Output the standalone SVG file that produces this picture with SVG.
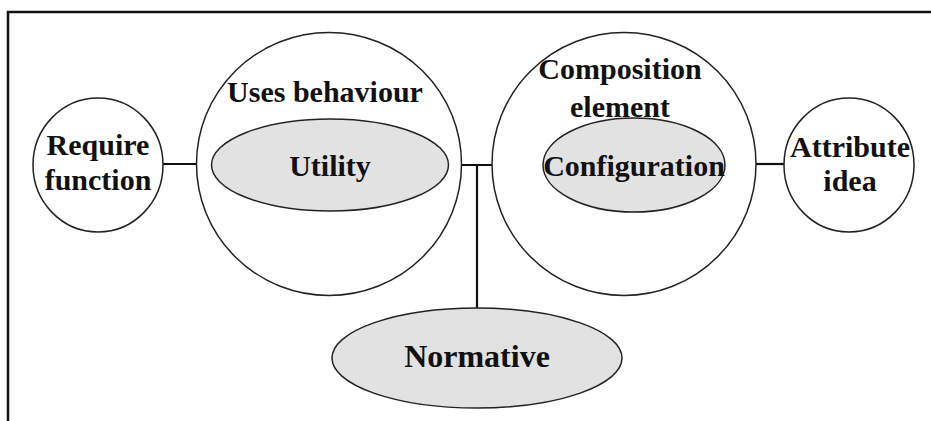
<svg xmlns="http://www.w3.org/2000/svg" width="931" height="421" viewBox="0 0 931 421">
<style>
.o{fill:#fff;stroke:#222;stroke-width:1.5}
.g{fill:#e2e2e2;stroke:#222;stroke-width:1.5}
.c{stroke:#111;stroke-width:2.2;fill:none}
text{font-family:"Liberation Serif","Times New Roman",serif;font-weight:bold;font-size:30px;text-anchor:middle;fill:#111}
</style>
<rect width="931" height="421" fill="#fff"/>
<path d="M8,421 V12 H931" fill="none" stroke="#111" stroke-width="2.5"/>
<g id="connectors">
<line class="c" x1="163" y1="164" x2="197" y2="164"/>
<line class="c" x1="448" y1="165" x2="543" y2="165"/>
<line class="c" x1="477" y1="165" x2="477" y2="309"/>
<line class="c" x1="756" y1="164" x2="784" y2="164"/>
</g>
<g id="uses-behaviour">
<ellipse class="o" cx="329" cy="164" rx="132.5" ry="131.5"/>
<text x="325" y="102">Uses behaviour</text>
</g>
<g id="utility">
<ellipse class="g" cx="330" cy="165" rx="118.5" ry="46"/>
<text x="330" y="176">Utility</text>
</g>
<g id="composition-element">
<ellipse class="o" cx="624" cy="164" rx="132" ry="131.5"/>
<text x="620" y="79">Composition</text>
<text x="620" y="117">element</text>
</g>
<g id="configuration">
<ellipse class="g" cx="634" cy="165" rx="91" ry="47"/>
<text x="634" y="176">Configuration</text>
</g>
<g id="require-function">
<ellipse class="o" cx="98" cy="165" rx="65" ry="67"/>
<text x="98" y="155">Require</text>
<text x="98" y="190">function</text>
</g>
<g id="attribute-idea">
<ellipse class="o" cx="849" cy="165" rx="65" ry="67"/>
<text x="850" y="157">Attribute</text>
<text x="850" y="191">idea</text>
</g>
<g id="normative">
<ellipse class="g" cx="477" cy="358" rx="145" ry="50"/>
<text x="477" y="367" style="font-size:32px">Normative</text>
</g>
</svg>
